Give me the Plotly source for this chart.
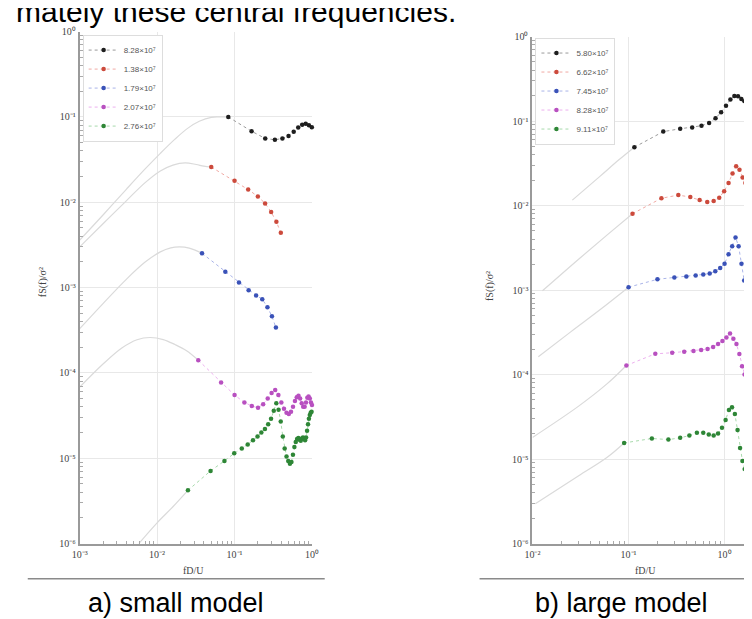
import plotly.graph_objects as go

W, H = 752, 619

# ---------------- data : a) small model ----------------
small_names = ["8.28×10⁷", "1.38×10⁷", "1.79×10⁷", "2.07×10⁷", "2.76×10⁷"]

s_black_x = [0.083, 0.166, 0.249, 0.332, 0.415, 0.498, 0.581, 0.664, 0.747, 0.830, 0.913, 0.996]
s_black_y = [0.100, 0.068, 0.056, 0.054, 0.056, 0.060, 0.067, 0.075, 0.081, 0.083, 0.080, 0.076]

s_red_x = [0.050, 0.100, 0.150, 0.200, 0.248, 0.297, 0.347, 0.396]
s_red_y = [0.0259, 0.0179, 0.0141, 0.0117, 0.0097, 0.0077, 0.0059, 0.0044]

s_blue_x = [0.038, 0.076, 0.114, 0.152, 0.190, 0.228, 0.266, 0.304, 0.342]
s_blue_y = [0.00252, 0.00153, 0.00115, 0.00093, 0.00081, 0.00073, 0.00059, 0.00046, 0.00034]

s_mag_x = [0.034, 0.067, 0.100, 0.134, 0.167, 0.201, 0.234, 0.268, 0.301, 0.335,
           0.368, 0.402, 0.435, 0.469, 0.502, 0.536, 0.569, 0.603, 0.636, 0.670,
           0.703, 0.737, 0.770, 0.804, 0.837, 0.871, 0.904, 0.938, 0.971, 1.000]
s_mag_y = [1.41e-4, 7.7e-5, 5.5e-5, 4.5e-5, 4.1e-5, 3.9e-5, 4.3e-5, 5.0e-5, 5.8e-5, 6.3e-5,
           5.5e-5, 4.5e-5, 3.8e-5, 3.4e-5, 3.3e-5, 3.5e-5, 4.0e-5, 4.7e-5, 5.2e-5, 5.4e-5,
           5.0e-5, 4.4e-5, 4.0e-5, 4.0e-5, 4.5e-5, 5.1e-5, 5.3e-5, 5.0e-5, 4.5e-5, 4.2e-5]

s_green_x = [0.025, 0.049, 0.074, 0.099, 0.124, 0.148, 0.173, 0.198, 0.222, 0.247,
             0.272, 0.296, 0.321, 0.346, 0.370, 0.395, 0.420, 0.444, 0.469, 0.494,
             0.519, 0.543, 0.568, 0.593, 0.617, 0.642, 0.667, 0.691, 0.716, 0.741,
             0.765, 0.790, 0.815, 0.839, 0.864, 0.889, 0.913, 0.938, 0.963, 0.988]
s_green_y = [4.2e-6, 7.1e-6, 9.3e-6, 1.14e-5, 1.30e-5, 1.45e-5, 1.62e-5, 1.80e-5, 2.0e-5, 2.2e-5,
             2.5e-5, 2.9e-5, 3.6e-5, 4.4e-5, 3.7e-5, 2.7e-5, 1.8e-5, 1.3e-5, 1.05e-5, 9.3e-6,
             8.6e-6, 9.0e-6, 1.1e-5, 1.35e-5, 1.55e-5, 1.68e-5, 1.72e-5, 1.65e-5, 1.6e-5, 1.7e-5,
             1.75e-5, 1.7e-5, 1.62e-5, 1.75e-5, 2.1e-5, 2.5e-5, 2.9e-5, 3.2e-5, 3.4e-5, 3.5e-5]

# reference (model) spectra, grey curves
s_ref_black_x = [0.001, 0.002, 0.004, 0.007, 0.011, 0.017, 0.025, 0.035, 0.050, 0.065, 0.083]
s_ref_black_y = [0.0036, 0.0071, 0.0142, 0.0246, 0.0375, 0.055, 0.074, 0.089, 0.099, 0.100, 0.100]
s_ref_red_x = [0.001, 0.002, 0.004, 0.007, 0.011, 0.016, 0.023, 0.032, 0.040, 0.050]
s_ref_red_y = [0.0030, 0.0056, 0.0104, 0.017, 0.0233, 0.0273, 0.029, 0.0277, 0.0265, 0.0259]
s_ref_blue_x = [0.001, 0.002, 0.004, 0.007, 0.011, 0.015, 0.0195, 0.026, 0.038]
s_ref_blue_y = [3.3e-4, 6.5e-4, 1.25e-3, 1.99e-3, 2.62e-3, 2.92e-3, 3.0e-3, 2.9e-3, 2.52e-3]
s_ref_mag_x = [0.001, 0.002, 0.0035, 0.0055, 0.0081, 0.012, 0.017, 0.024, 0.034]
s_ref_mag_y = [6.8e-5, 1.27e-4, 1.96e-4, 2.45e-4, 2.6e-4, 2.46e-4, 2.15e-4, 1.82e-4, 1.41e-4]
s_ref_green_x = [0.0058, 0.010, 0.016, 0.025]
s_ref_green_y = [1.0e-6, 1.75e-6, 2.7e-6, 4.2e-6]

# ---------------- data : b) large model ----------------
large_names = ["5.80×10⁷", "6.62×10⁷", "7.45×10⁷", "8.28×10⁷", "9.11×10⁷"]

l_black_x = [0.115, 0.23, 0.345, 0.46, 0.575, 0.69, 0.805, 0.92, 1.035, 1.15, 1.265, 1.38,
             1.495, 1.61, 1.725, 1.84, 1.955, 2.07]
l_black_y = [0.049, 0.075, 0.081, 0.084, 0.088, 0.095, 0.108, 0.127, 0.152, 0.180, 0.198, 0.196,
             0.182, 0.172, 0.178, 0.198, 0.215, 0.225]

l_red_x = [0.11, 0.22, 0.33, 0.44, 0.55, 0.66, 0.77, 0.88, 0.99, 1.10, 1.21, 1.32, 1.43,
           1.54, 1.65, 1.76, 1.87, 1.98]
l_red_y = [0.0080, 0.0122, 0.0133, 0.0126, 0.0116, 0.0110, 0.0113, 0.0124, 0.0148, 0.0185,
           0.0240, 0.0292, 0.0265, 0.0215, 0.0185, 0.0166, 0.0150, 0.0140]

l_blue_x = [0.10, 0.20, 0.30, 0.40, 0.50, 0.60, 0.70, 0.80, 0.90, 1.00, 1.10, 1.20, 1.30,
            1.40, 1.50, 1.60, 1.70, 1.80, 1.90, 2.00]
l_blue_y = [0.00108, 0.00134, 0.00141, 0.00145, 0.00149, 0.00153, 0.00157, 0.00167, 0.00182,
            0.00205, 0.00265, 0.0033, 0.0042, 0.0033, 0.00205, 0.0013, 0.00105, 0.00088,
            0.00074, 0.00065]

l_mag_x = [0.095, 0.19, 0.285, 0.38, 0.475, 0.57, 0.665, 0.76, 0.855, 0.95, 1.045, 1.14,
           1.235, 1.33, 1.425, 1.52, 1.615, 1.71, 1.805, 1.90, 1.995]
l_mag_y = [1.28e-4, 1.76e-4, 1.81e-4, 1.86e-4, 1.9e-4, 1.95e-4, 2.0e-4, 2.12e-4, 2.3e-4,
           2.5e-4, 2.75e-4, 3.05e-4, 2.65e-4, 2.3e-4, 1.75e-4, 1.25e-4, 1.0e-4, 8.0e-5,
           6.8e-5, 6.0e-5, 5.5e-5]

l_green_x = [0.09, 0.175, 0.26, 0.345, 0.43, 0.515, 0.60, 0.685, 0.77, 0.855, 0.94, 1.025,
             1.11, 1.195, 1.28, 1.365, 1.45, 1.535, 1.62, 1.705, 1.79, 1.875, 1.96]
l_green_y = [1.55e-5, 1.75e-5, 1.7e-5, 1.78e-5, 1.9e-5, 2.05e-5, 2.05e-5, 1.95e-5, 1.9e-5,
             2.0e-5, 2.35e-5, 2.9e-5, 3.8e-5, 4.1e-5, 3.4e-5, 2.2e-5, 1.35e-5, 9.5e-6, 7.6e-6,
             6.3e-6, 5.6e-6, 5.2e-6, 5.0e-6]

l_ref_black_x = [0.026, 0.05, 0.08, 0.115]
l_ref_black_y = [0.0116, 0.022, 0.035, 0.049]
l_ref_red_x = [0.0127, 0.03, 0.06, 0.11]
l_ref_red_y = [9.8e-4, 2.3e-3, 4.5e-3, 8.0e-3]
l_ref_blue_x = [0.0115, 0.025, 0.05, 0.10]
l_ref_blue_y = [1.62e-4, 3.2e-4, 5.8e-4, 1.08e-3]
l_ref_mag_x = [0.010, 0.03, 0.06, 0.095]
l_ref_mag_y = [1.8e-5, 4.2e-5, 7.8e-5, 1.28e-4]
l_ref_green_x = [0.0107, 0.03, 0.06, 0.09]
l_ref_green_y = [2.95e-6, 6.3e-6, 1.05e-5, 1.55e-5]

y_tick_vals = [1e-6, 1e-5, 1e-4, 1e-3, 1e-2, 1e-1, 1]
y_tick_text = ["10⁻⁶", "10⁻⁵", "10⁻⁴", "10⁻³", "10⁻²", "10⁻¹", "10⁰"]
xs_tick_vals = [1e-3, 1e-2, 1e-1, 1]
xs_tick_text = ["10⁻³", "10⁻²", "10⁻¹", "10⁰"]
xl_tick_vals = [1e-2, 1e-1, 1, 10]
xl_tick_text = ["10⁻²", "10⁻¹", "10⁰", "10¹"]

# ---------------- styles ----------------
marker_cols = ["#1e1e1e", "#cc4a3c", "#3a52b8", "#b850c0", "#2e8636"]
line_cols = ["#9a9a9a", "#f0aaa4", "#aab4e8", "#ecb0ee", "#a8daac"]
GREY = "#dadada"


def px_x(p):
    return p / W


def px_y(p):
    return 1 - p / H


fig = go.Figure()

small_sets = [(s_black_x, s_black_y, s_ref_black_x, s_ref_black_y),
              (s_red_x, s_red_y, s_ref_red_x, s_ref_red_y),
              (s_blue_x, s_blue_y, s_ref_blue_x, s_ref_blue_y),
              (s_mag_x, s_mag_y, s_ref_mag_x, s_ref_mag_y),
              (s_green_x, s_green_y, s_ref_green_x, s_ref_green_y)]
large_sets = [(l_black_x, l_black_y, l_ref_black_x, l_ref_black_y),
              (l_red_x, l_red_y, l_ref_red_x, l_ref_red_y),
              (l_blue_x, l_blue_y, l_ref_blue_x, l_ref_blue_y),
              (l_mag_x, l_mag_y, l_ref_mag_x, l_ref_mag_y),
              (l_green_x, l_green_y, l_ref_green_x, l_ref_green_y)]

for sets, names, xa, ya, leg in [(small_sets, small_names, "x", "y", "legend"),
                                 (large_sets, large_names, "x2", "y2", "legend2")]:
    for (dx, dy, rx, ry) in sets:
        fig.add_trace(go.Scatter(x=rx, y=ry, mode="lines", xaxis=xa, yaxis=ya,
                                 line=dict(color=GREY, width=1.2, shape="spline"),
                                 showlegend=False, hoverinfo="skip"))
    for i, (dx, dy, rx, ry) in enumerate(sets):
        fig.add_trace(go.Scatter(x=dx, y=dy, mode="lines+markers", name=names[i],
                                 xaxis=xa, yaxis=ya, legend=leg, cliponaxis=False,
                                 line=dict(color=line_cols[i], width=1, dash="dot"),
                                 marker=dict(color=marker_cols[i], size=4.5)))

tick_font = dict(family="Liberation Serif", size=10, color="#444")


def minor_vals(lo, hi):
    out = []
    for e in range(lo, hi):
        for k in range(2, 10):
            out.append(k * 10.0 ** e)
    return out


axis_common = dict(type="log", showgrid=True, gridcolor="#e8e8e8", gridwidth=1,
                   showline=True, linecolor="#9a9a9a", linewidth=2, zeroline=False,
                   ticks="", tickfont=tick_font, tickmode="array")

leg_common = dict(xanchor="left", yanchor="top", bgcolor="white",
                  bordercolor="#dddddd", borderwidth=1,
                  font=dict(family="Liberation Sans", size=8, color="#555"),
                  tracegroupgap=0, itemwidth=30)

fig.update_layout(
    width=W, height=H, autosize=False,
    margin=dict(l=0, r=0, t=0, b=0),
    paper_bgcolor="white", plot_bgcolor="white",
    font=dict(family="Liberation Sans", color="#555"),
    xaxis=dict(axis_common, domain=[px_x(65), px_x(302)], range=[-3, 0], anchor="y",
               tickvals=xs_tick_vals, ticktext=xs_tick_text,
               minor=dict(tickvals=minor_vals(-3, 0), ticks="inside", ticklen=3,
                          tickcolor="#aaa", showgrid=False)),
    yaxis=dict(axis_common, domain=[px_y(540), px_y(18)], range=[-6, 0], anchor="x",
               tickvals=y_tick_vals, ticktext=y_tick_text,
               minor=dict(tickvals=minor_vals(-6, 0), ticks="inside", ticklen=3,
                          tickcolor="#aaa", showgrid=False)),
    xaxis2=dict(axis_common, domain=[px_x(527), 1.0], range=[-2, 0.296], anchor="y2",
                tickvals=xl_tick_vals, ticktext=xl_tick_text,
                minor=dict(tickvals=minor_vals(-2, 1), ticks="inside", ticklen=3,
                           tickcolor="#aaa", showgrid=False)),
    yaxis2=dict(axis_common, domain=[px_y(540), px_y(23)], range=[-6, 0], anchor="x2",
                tickvals=y_tick_vals, ticktext=y_tick_text,
                minor=dict(tickvals=minor_vals(-6, 0), ticks="inside", ticklen=3,
                           tickcolor="#aaa", showgrid=False)),
    legend=dict(leg_common, x=px_x(68), y=px_y(21)),
    legend2=dict(leg_common, x=px_x(530), y=px_y(24)),
    shapes=[
        dict(type="line", xref="paper", yref="paper", x0=px_x(12), x1=px_x(315),
             y0=px_y(576), y1=px_y(576), line=dict(color="#8a8a8a", width=1.5)),
        dict(type="line", xref="paper", yref="paper", x0=px_x(473), x1=1.0,
             y0=px_y(576), y1=px_y(576), line=dict(color="#8a8a8a", width=1.5)),
    ],
    annotations=[
        dict(text="mately these central frequencies.", xref="paper", yref="paper",
             x=px_x(-2), y=px_y(16), xanchor="left", yanchor="bottom", showarrow=False,
             font=dict(family="Liberation Sans", size=30, color="black")),
        dict(text="a) small model", xref="paper", yref="paper", x=px_x(163), y=px_y(601),
             xanchor="center", yanchor="middle", showarrow=False,
             font=dict(family="Liberation Sans", size=27, color="black")),
        dict(text="b) large model", xref="paper", yref="paper", x=px_x(618), y=px_y(601),
             xanchor="center", yanchor="middle", showarrow=False,
             font=dict(family="Liberation Sans", size=27, color="black")),
        dict(text="fD/U", xref="paper", yref="paper", x=px_x(181), y=px_y(567),
             xanchor="center", yanchor="middle", showarrow=False,
             font=dict(family="Liberation Serif", size=10, color="#444")),
        dict(text="fD/U", xref="paper", yref="paper", x=px_x(642), y=px_y(567),
             xanchor="center", yanchor="middle", showarrow=False,
             font=dict(family="Liberation Serif", size=10, color="#444")),
        dict(text="fS(f)/σ²", xref="paper", yref="paper", x=px_x(27), y=px_y(273),
             xanchor="center", yanchor="middle", showarrow=False, textangle=-90,
             font=dict(family="Liberation Serif", size=10, color="#444")),
        dict(text="fS(f)/σ²", xref="paper", yref="paper", x=px_x(483), y=px_y(277),
             xanchor="center", yanchor="middle", showarrow=False, textangle=-90,
             font=dict(family="Liberation Serif", size=10, color="#444")),
    ],
)

fig.write_html("out.html")
